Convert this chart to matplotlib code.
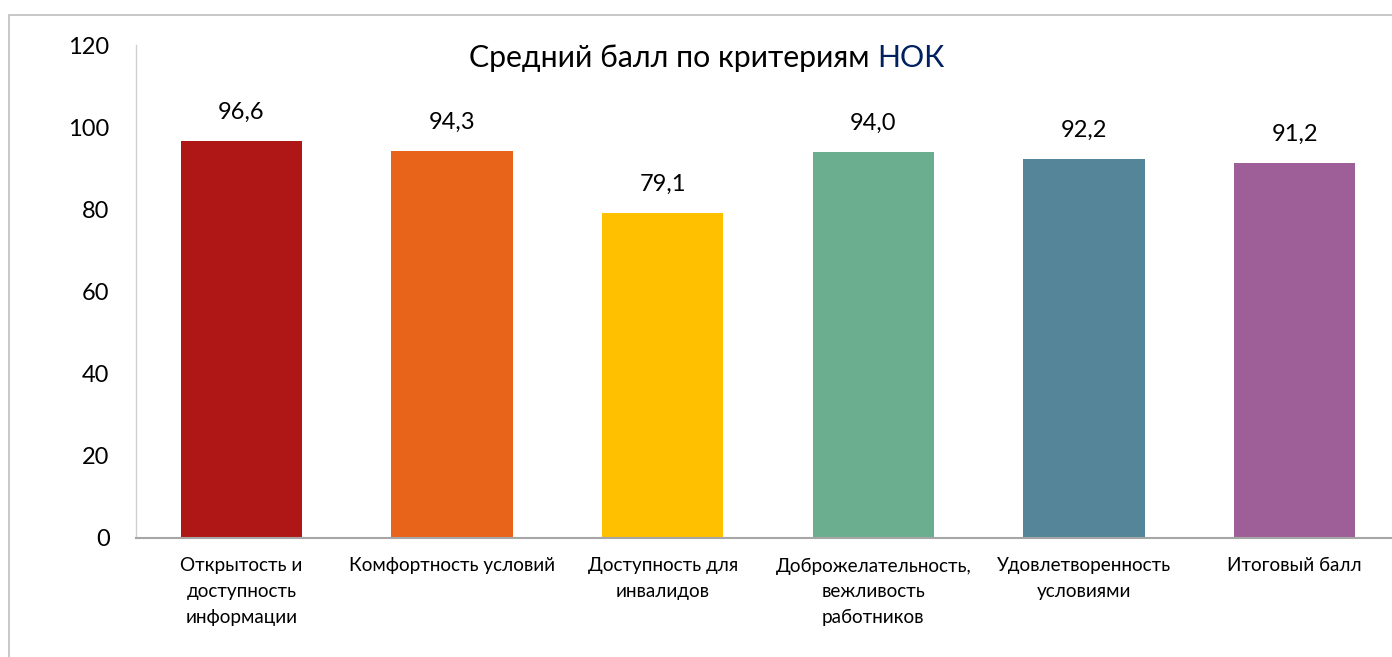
import matplotlib
matplotlib.use("Agg")
import matplotlib.pyplot as plt
from matplotlib.patches import Rectangle

# Данные
categories = ["Открытость и\nдоступность\nинформации", "Комфортность условий",
              "Доступность для\nинвалидов", "Доброжелательность,\nвежливость\nработников",
              "Удовлетворенность\nусловиями", "Итоговый балл"]
scores = [96.6, 94.3, 79.1, 94.0, 92.2, 91.2]
bar_colors = ["#AF1616", "#E8641A", "#FFC000", "#6AAD8F", "#548599", "#9E5F99"]
y_ticks = [0, 20, 40, 60, 80, 100, 120]

plt.rcParams["font.family"] = ["Lato", "DejaVu Sans"]

W, H = 1392, 657
fig = plt.figure(figsize=(W / 100, H / 100), dpi=100)
ax = fig.add_axes([136 / W, 1 - 538 / H, (1400 - 136) / W, (538 - 45) / H])

x = range(len(scores))
bars = ax.bar(x, scores, width=0.575, color=bar_colors)
for b, v in zip(bars, scores):
    ax.annotate(f"{v:.1f}".replace(".", ","), (b.get_x() + b.get_width() / 2, v),
                xytext=(0, 13), textcoords="offset points",
                ha="center", va="bottom", fontsize=17)

ax.set_xlim(-0.5, len(scores) - 0.5)
ax.set_ylim(0, 120)
ax.set_yticks(y_ticks)
ax.set_xticks(list(x))
ax.set_xticklabels(categories, fontsize=13.6, linespacing=1.62, va="top")
ax.tick_params(axis="x", length=0, pad=14)
ax.tick_params(axis="y", length=0, pad=19, labelsize=17)

for s in ["top", "right"]:
    ax.spines[s].set_visible(False)
ax.spines["left"].set_color("#D0D0D0")
ax.spines["left"].set_linewidth(1.0)
ax.spines["bottom"].set_color("#A6A6A6")
ax.spines["bottom"].set_linewidth(1.5)

# Заголовок: "НОК" тёмно-синим
t1 = fig.text(469 / W, 1 - 67 / H, "Средний балл по критериям ", fontsize=21.8,
              ha="left", va="baseline")
ax.annotate("НОК", xy=(1, 0), xycoords=t1, ha="left", va="bottom",
            fontsize=21.8, color="#002060")

# рамка области диаграммы
fig.patches.append(Rectangle((9 / W, -0.1), 1.1, 1.1 - 15 / H,
                             transform=fig.transFigure, fill=False,
                             edgecolor="#BFBFBF", linewidth=1.2))

fig.savefig("out.png", dpi=100)
